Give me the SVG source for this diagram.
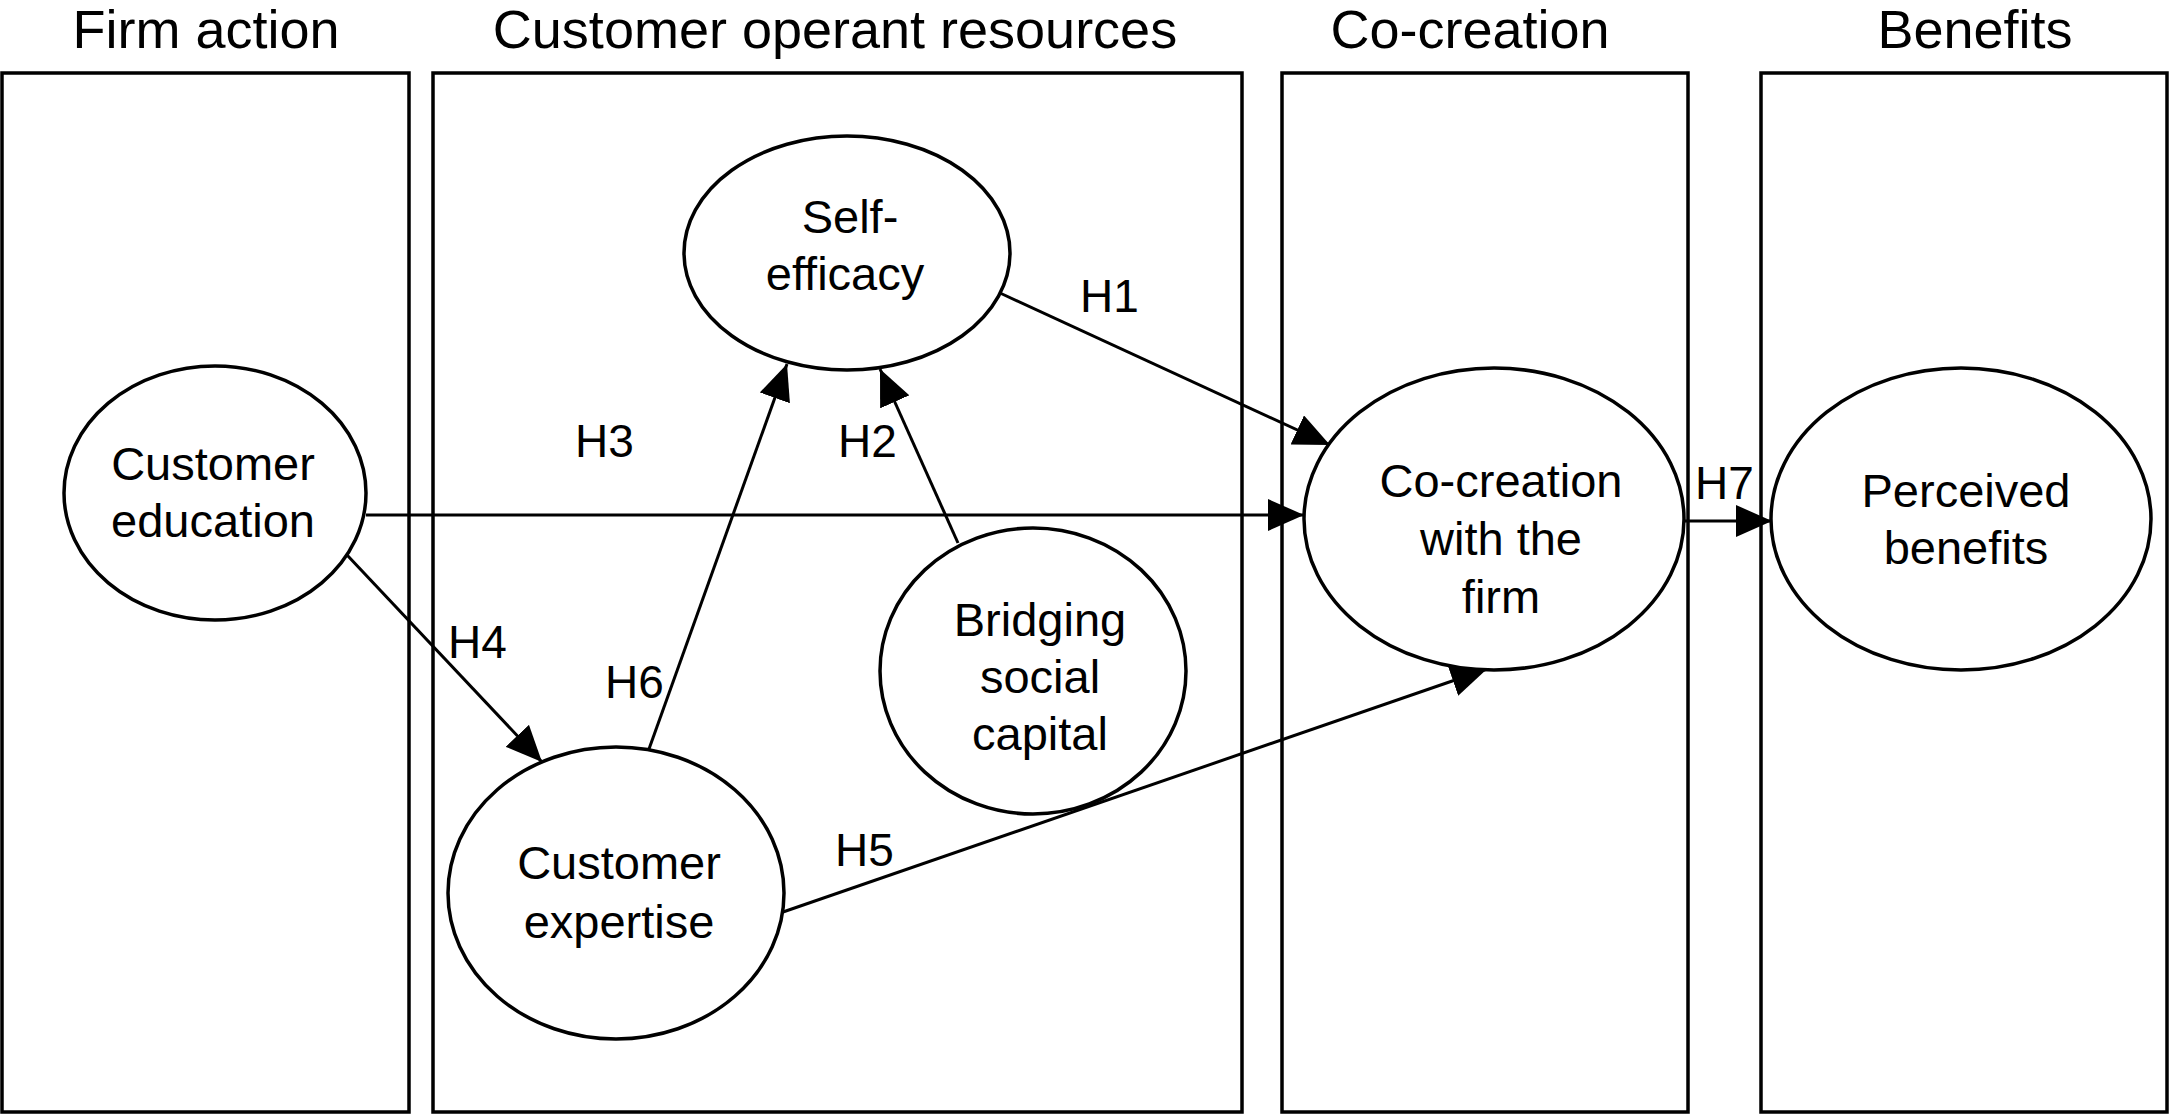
<svg xmlns="http://www.w3.org/2000/svg" width="2170" height="1115" viewBox="0 0 2170 1115">
<defs>
<marker id="arr" markerUnits="userSpaceOnUse" markerWidth="36" markerHeight="32" viewBox="0 0 36 32" refX="36" refY="16" orient="auto">
<path d="M0,0 L36,16 L0,32 z" fill="#000"/>
</marker>
</defs>
<style>
.box{fill:none;stroke:#000;stroke-width:3.5}
.node{fill:#fff;stroke:#000;stroke-width:3.5}
.title{font-family:"Liberation Sans",Arial,sans-serif;font-size:54px;text-anchor:middle;fill:#000}
.lbl{font-family:"Liberation Sans",Arial,sans-serif;font-size:47px;text-anchor:middle;fill:#000}
.hl{font-family:"Liberation Sans",Arial,sans-serif;font-size:46px;fill:#000}
.edge{fill:none;stroke:#000;stroke-width:3;marker-end:url(#arr)}
</style>
<rect width="2170" height="1115" fill="#fff"/>
<g id="columns">
<rect class="box" x="2" y="73" width="407" height="1039"/>
<rect class="box" x="433" y="73" width="809" height="1039"/>
<rect class="box" x="1282" y="73" width="406" height="1039"/>
<rect class="box" x="1761" y="73" width="406" height="1039"/>
<text class="title" x="206" y="48">Firm action</text>
<text class="title" x="835" y="48">Customer operant resources</text>
<text class="title" x="1470" y="48">Co-creation</text>
<text class="title" x="1975" y="48">Benefits</text>
</g>
<g id="connectors">
<line class="edge" x1="1000" y1="293" x2="1330" y2="445"/>
<line class="edge" x1="366" y1="515" x2="1304" y2="515"/>
<line class="edge" x1="1685" y1="521" x2="1772" y2="521"/>
<line class="edge" x1="347" y1="555" x2="542" y2="762"/>
<line class="edge" x1="649" y1="749" x2="787" y2="364"/>
<line class="edge" x1="958" y1="543" x2="880" y2="369"/>
<line class="edge" x1="783" y1="912" x2="1487" y2="669"/>
<text class="hl" x="1080" y="312">H1</text>
<text class="hl" x="838" y="457">H2</text>
<text class="hl" x="575" y="457">H3</text>
<text class="hl" x="448" y="658">H4</text>
<text class="hl" x="835" y="866">H5</text>
<text class="hl" x="605" y="698">H6</text>
<text class="hl" x="1695" y="499">H7</text>
</g>
<g id="self-efficacy">
<ellipse class="node" cx="847" cy="253" rx="163" ry="117"/>
<text class="lbl" x="850" y="233">Self-</text>
<text class="lbl" x="845" y="290">efficacy</text>
</g>
<g id="customer-education">
<ellipse class="node" cx="215" cy="493" rx="151" ry="127"/>
<text class="lbl" x="213" y="480">Customer</text>
<text class="lbl" x="213" y="537">education</text>
</g>
<g id="customer-expertise">
<ellipse class="node" cx="616" cy="893" rx="168" ry="146"/>
<text class="lbl" x="619" y="879">Customer</text>
<text class="lbl" x="619" y="938">expertise</text>
</g>
<g id="bridging-social-capital">
<ellipse class="node" cx="1033" cy="671" rx="153" ry="143"/>
<text class="lbl" x="1040" y="636">Bridging</text>
<text class="lbl" x="1040" y="693">social</text>
<text class="lbl" x="1040" y="750">capital</text>
</g>
<g id="co-creation">
<ellipse class="node" cx="1494" cy="519" rx="190" ry="151"/>
<text class="lbl" x="1501" y="497">Co-creation</text>
<text class="lbl" x="1501" y="555">with the</text>
<text class="lbl" x="1501" y="613">firm</text>
</g>
<g id="perceived-benefits">
<ellipse class="node" cx="1961" cy="519" rx="190" ry="151"/>
<text class="lbl" x="1966" y="507">Perceived</text>
<text class="lbl" x="1966" y="564">benefits</text>
</g>
</svg>
